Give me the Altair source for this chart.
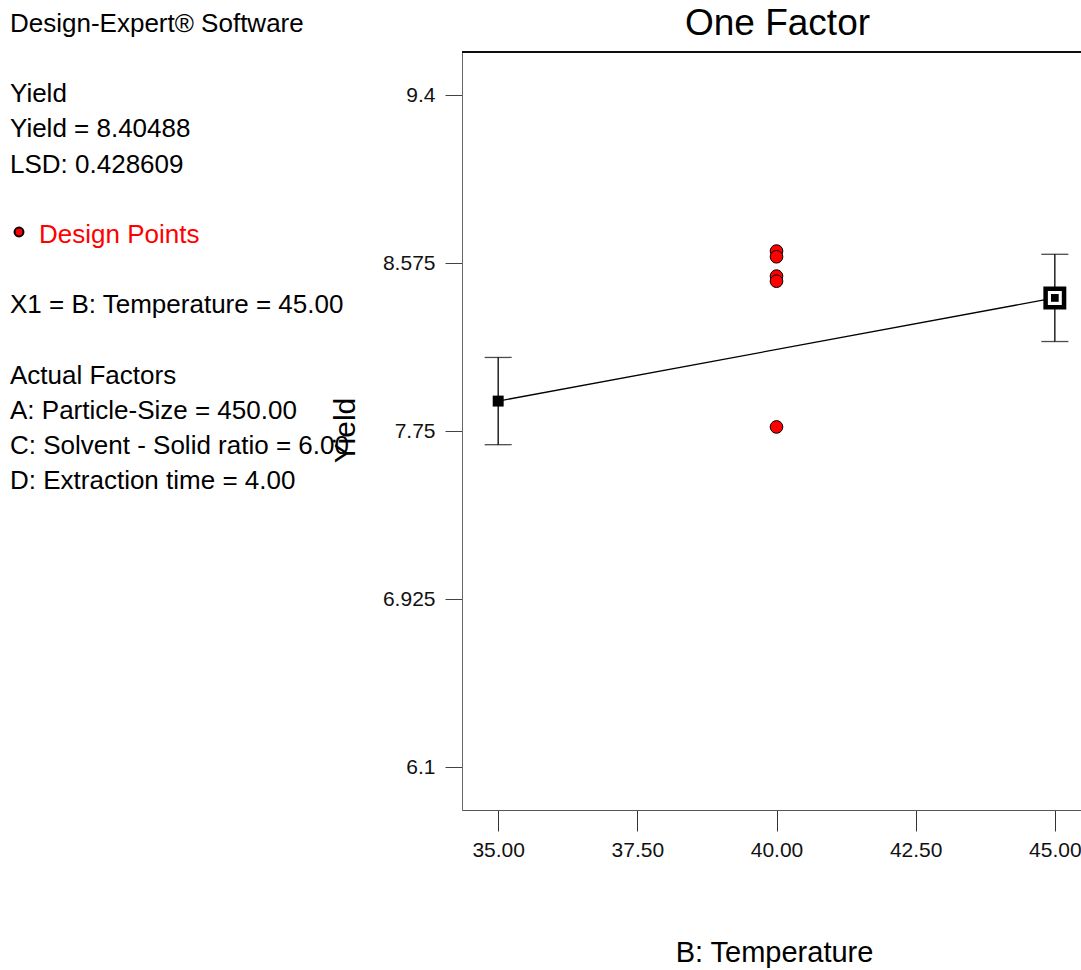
import altair as alt
import pandas as pd

FONT = "Liberation Sans"

# Factor levels and model predictions (Yield vs. B: Temperature)
temp_levels = [35.0, 45.0]
predicted_yield = [7.898, 8.40488]
lsd = 0.428609

# Design points observed at the centre temperature
design_temp = [40.0, 40.0, 40.0, 40.0, 40.0]
design_yield = [8.635, 8.607, 8.512, 8.487, 7.771]

x_ticks = [35.0, 37.5, 40.0, 42.5, 45.0]
y_ticks = [6.1, 6.925, 7.75, 8.575, 9.4]
x_domain = [34.35, 45.47]
y_domain = [5.889, 9.613]

info_lines = [
    ("Design-Expert® Software", 0),
    ("Yield", 2),
    ("Yield = 8.40488", 3),
    ("LSD: 0.428609", 4),
    ("X1 = B: Temperature = 45.00", 8),
    ("Actual Factors", 10),
    ("A: Particle-Size = 450.00", 11),
    ("C: Solvent - Solid ratio  = 6.00", 12),
    ("D: Extraction time = 4.00", 13),
]

W, H = 619, 758
LEFT, TOP = 462, 52

pred_df = pd.DataFrame({
    "temp": temp_levels,
    "yield": predicted_yield,
    "lower": [v - lsd / 2 for v in predicted_yield],
    "upper": [v + lsd / 2 for v in predicted_yield],
})
design_df = pd.DataFrame({"temp": design_temp, "yield": design_yield})

x_enc = alt.X(
    "temp:Q",
    scale=alt.Scale(domain=x_domain, nice=False, zero=False),
    axis=alt.Axis(
        values=x_ticks, format=".2f", title="B: Temperature",
        titleX=312, titleY=142, titleBaseline="middle", titleAlign="center",
        titleFontSize=29, titleFontWeight="normal", titleColor="black",
        labelFontSize=21, labelColor="#111", labelPadding=8,
        tickSize=21, tickColor="#333", domainColor="#555", grid=False,
    ),
)
y_scale = alt.Scale(domain=y_domain, nice=False, zero=False)
y_enc = alt.Y(
    "yield:Q",
    scale=y_scale,
    axis=alt.Axis(
        values=y_ticks, labelExpr="format(datum.value, '.3~f')", title="Yield",
        titleAngle=270, titleX=-117, titleY=378, titleAlign="center",
        titleBaseline="middle", titleFontSize=30, titleFontWeight="normal",
        titleColor="black",
        labelFontSize=21, labelColor="#111", labelPadding=10,
        tickSize=17, tickColor="#444", domainColor="#666", grid=False,
    ),
)

base = alt.Chart(pred_df)

line = base.mark_line(color="black", strokeWidth=1.3).encode(x=x_enc, y=y_enc)

bars = base.mark_rule(color="black", strokeWidth=1.3).encode(
    x="temp:Q", y=alt.Y("lower:Q", scale=y_scale), y2="upper:Q"
)
cap_lo = base.mark_tick(orient="horizontal", size=27, thickness=1.3, color="black").encode(
    x="temp:Q", y=alt.Y("lower:Q", scale=y_scale)
)
cap_hi = base.mark_tick(orient="horizontal", size=27, thickness=1.3, color="black").encode(
    x="temp:Q", y=alt.Y("upper:Q", scale=y_scale)
)

low_marker = base.transform_filter(alt.datum.temp == 35).mark_square(
    color="black", opacity=1, size=120
).encode(x="temp:Q", y="yield:Q")

cur_outer = base.transform_filter(alt.datum.temp == 45).mark_square(
    filled=True, fill="white", stroke="black", strokeWidth=4.5, size=340, opacity=1
).encode(x="temp:Q", y="yield:Q")
cur_inner = base.transform_filter(alt.datum.temp == 45).mark_square(
    color="black", opacity=1, size=60
).encode(x="temp:Q", y="yield:Q")

points = alt.Chart(design_df).mark_point(
    shape="circle", filled=True, fill="#ff0000", stroke="black",
    strokeWidth=1, size=160, opacity=1
).encode(x="temp:Q", y="yield:Q")

# frame line along the top of the plot
top_edge = alt.Chart(pred_df).mark_rule(color="black", strokeWidth=1.5).encode(
    x=alt.value(0), x2=alt.value(W), y=alt.value(0)
)

title = alt.Chart(pred_df.head(1)).mark_text(
    text="One Factor", font=FONT, fontSize=37, align="center",
    baseline="alphabetic", color="black"
).encode(x=alt.value(315.5), y=alt.value(-17))

info_layers = []
for text, row in info_lines:
    info_layers.append(
        alt.Chart(pred_df.head(1)).mark_text(
            text=text, font=FONT, fontSize=26, align="left",
            baseline="alphabetic", color="black"
        ).encode(x=alt.value(10 - LEFT), y=alt.value(31.7 + 35.2 * row - TOP))
    )

legend_dot = alt.Chart(pred_df.head(1)).mark_point(
    shape="circle", filled=True, fill="#ff0000", stroke="black",
    strokeWidth=2, size=80, opacity=1
).encode(x=alt.value(19 - LEFT), y=alt.value(232 - TOP))
legend_text = alt.Chart(pred_df.head(1)).mark_text(
    text="Design Points", font=FONT, fontSize=26, align="left",
    baseline="alphabetic", color="#ff0000"
).encode(x=alt.value(39 - LEFT), y=alt.value(31.7 + 35.2 * 6 - TOP))

chart = alt.layer(
    line, bars, cap_lo, cap_hi, low_marker, cur_outer, cur_inner, points,
    top_edge, title, legend_dot, legend_text, *info_layers
).properties(
    width=W, height=H,
    autosize=alt.AutoSizeParams(type="none"),
    padding={"left": LEFT, "top": TOP, "right": 0, "bottom": 160},
).configure_view(stroke=None).configure_axis(
    labelFont=FONT, titleFont=FONT
).configure(background="white")

chart.save("out.html", embed_options={"renderer": "svg", "actions": False})
